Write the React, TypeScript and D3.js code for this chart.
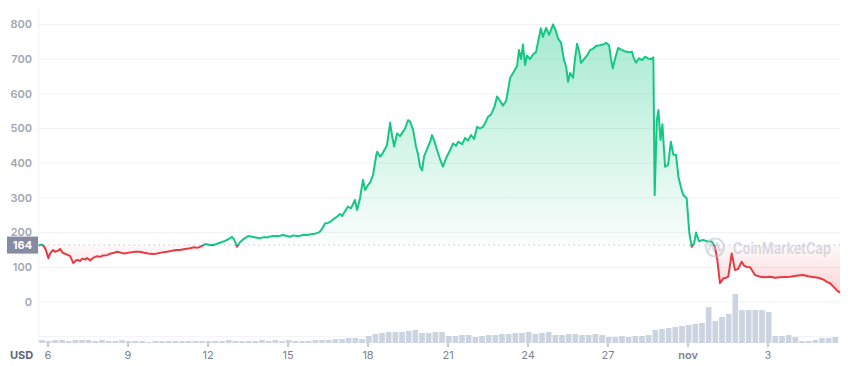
import * as React from 'react';
import {useEffect, useRef} from 'react';
import * as d3 from 'd3';

const width = 852;
const height = 366;

// price points: [day offset from Oct 6, price in USD]
const prices: [number, number][] = [
  [-0.35, 163], [-0.23, 166], [-0.15, 160], [-0.08, 150], [0.01, 126], [0.08, 140], [0.19, 150], [0.26, 145],
  [0.38, 148], [0.45, 153], [0.56, 141], [0.68, 138], [0.83, 132], [0.95, 112], [1.05, 120], [1.13, 121],
  [1.2, 118], [1.28, 125], [1.39, 122], [1.46, 127], [1.58, 120], [1.69, 127], [1.84, 132], [1.95, 130],
  [2.06, 134], [2.21, 135], [2.36, 140], [2.48, 142], [2.59, 145], [2.7, 143], [2.85, 140], [2.96, 141],
  [3.11, 143], [3.26, 145], [3.45, 145], [3.6, 142], [3.75, 140], [3.94, 138], [4.09, 140], [4.28, 143],
  [4.46, 145], [4.61, 147], [4.8, 150], [4.95, 150], [5.14, 153], [5.33, 155], [5.48, 158], [5.59, 156],
  [5.7, 159], [5.81, 163], [5.89, 167], [6.04, 165], [6.19, 164], [6.34, 168], [6.49, 172], [6.64, 176],
  [6.71, 179], [6.83, 184], [6.9, 188], [6.98, 180], [7.09, 159], [7.2, 172], [7.31, 180], [7.43, 186],
  [7.5, 190], [7.65, 188], [7.8, 186], [7.95, 184], [8.1, 187], [8.21, 186], [8.33, 189], [8.44, 190],
  [8.59, 190], [8.7, 191], [8.81, 193], [8.96, 190], [9.08, 188], [9.19, 192], [9.34, 190], [9.45, 191],
  [9.6, 194], [9.71, 193], [9.86, 195], [10.01, 197], [10.13, 200], [10.2, 203], [10.31, 215], [10.39, 227],
  [10.5, 228], [10.58, 231], [10.69, 238], [10.84, 246], [10.95, 254], [11.03, 248], [11.14, 262], [11.25, 275],
  [11.36, 270], [11.51, 294], [11.59, 265], [11.7, 299], [11.81, 352], [11.89, 323], [12.0, 337], [12.08, 345],
  [12.19, 366], [12.3, 420], [12.34, 433], [12.45, 419], [12.56, 430], [12.71, 452], [12.83, 517], [12.9, 480],
  [12.98, 448], [13.09, 486], [13.2, 478], [13.31, 491], [13.39, 500], [13.5, 524], [13.58, 520], [13.69, 496],
  [13.8, 448], [13.88, 424], [13.95, 390], [14.03, 380], [14.1, 419], [14.21, 440], [14.33, 462], [14.4, 481],
  [14.48, 465], [14.59, 438], [14.7, 412], [14.81, 390], [14.93, 415], [15.08, 438], [15.19, 457], [15.3, 450],
  [15.38, 462], [15.53, 455], [15.64, 473], [15.75, 465], [15.86, 481], [15.98, 470], [16.09, 505], [16.2, 500],
  [16.31, 505], [16.39, 515], [16.5, 534], [16.61, 540], [16.73, 560], [16.84, 592], [16.95, 580], [17.06, 566],
  [17.18, 580], [17.25, 610], [17.33, 646], [17.44, 660], [17.59, 680], [17.66, 726], [17.74, 700], [17.81, 742],
  [17.89, 683], [17.96, 710], [18.08, 700], [18.19, 714], [18.3, 720], [18.38, 750], [18.48, 789], [18.56, 764],
  [18.68, 790], [18.79, 770], [18.94, 800], [19.05, 780], [19.13, 759], [19.24, 747], [19.35, 697], [19.43, 678],
  [19.5, 635], [19.58, 660], [19.69, 646], [19.76, 700], [19.84, 744], [19.91, 725], [19.99, 689], [20.1, 700],
  [20.21, 710], [20.33, 726], [20.44, 730], [20.55, 738], [20.7, 740], [20.81, 742], [20.93, 747], [21.04, 740],
  [21.11, 702], [21.18, 673], [21.26, 700], [21.38, 732], [21.53, 726], [21.64, 722], [21.79, 720], [21.9, 721],
  [21.98, 700], [22.05, 690], [22.16, 702], [22.28, 697], [22.39, 707], [22.5, 702], [22.61, 700], [22.7, 705],
  [22.75, 308], [22.83, 524], [22.89, 553], [22.97, 467], [23.04, 512], [23.14, 390], [23.25, 395], [23.36, 462],
  [23.45, 424], [23.55, 424], [23.64, 361], [23.73, 332], [23.81, 310], [23.95, 299], [24.05, 198], [24.14, 159],
  [24.23, 170], [24.3, 200], [24.41, 175], [24.56, 179], [24.71, 175], [24.89, 174], [25.01, 159], [25.1, 121],
  [25.2, 54], [25.32, 68], [25.43, 70], [25.51, 73], [25.64, 140], [25.76, 92], [25.88, 95], [26.01, 116],
  [26.1, 105], [26.2, 101], [26.33, 100], [26.51, 78], [26.7, 73], [26.89, 71], [27.08, 73], [27.26, 70],
  [27.45, 71], [27.64, 72], [27.83, 73], [28.01, 75], [28.2, 77], [28.32, 78], [28.5, 74], [28.69, 72],
  [28.88, 70], [29.07, 65], [29.21, 58], [29.33, 54], [29.44, 45], [29.51, 40], [29.59, 33], [29.7, 27]
];

// 6-hour volume bars, starting at day -0.35
const volume = [
  3, 2, 3, 3, 2, 3, 3, 3, 2, 3, 2, 2, 3, 2, 2, 2, 1, 2, 2, 2,
  2, 2, 2, 2, 2, 2, 2, 2, 3, 2, 2, 2, 2, 3, 2, 3, 2, 3, 2, 2,
  2, 3, 3, 3, 4, 4, 5, 5, 4, 7, 9, 10, 11, 11, 11, 12, 13, 10, 10, 11,
  11, 7, 7, 8, 8, 6, 7, 8, 8, 9, 9, 10, 10, 11, 9, 10, 11, 8, 8, 9,
  9, 8, 8, 9, 8, 6, 6, 7, 6, 7, 7, 8, 13, 14, 15, 16, 17, 18, 19, 20,
  36, 22, 26, 29, 49, 33, 33, 33, 33, 31, 7, 7, 8, 6, 2, 2, 3, 5, 5, 6
];
const volumeStart = -0.35;
const volumeStep = 0.25;

const baseline = 164;
const yTicks = [0, 100, 200, 300, 400, 500, 600, 700, 800];
const gridValues = [-100, 0, 100, 200, 300, 400, 500, 600, 700, 800];
const xTickDays = [0, 3, 6, 9, 12, 15, 18, 21, 24, 27];
const xTickLabels = ['6', '9', '12', '15', '18', '21', '24', '27', 'nov', '3'];

const green = '#16c784';
const red = '#ea3943';
const font = 'Inter, "Noto Sans", sans-serif';

export default function App() {
  const ref = useRef<SVGSVGElement>(null);

  useEffect(() => {
    const svg = d3.select(ref.current);
    svg.selectAll('*').remove();

    const x = d3.scaleLinear().domain([-0.35, 29.7]).range([38.7, 840]);
    const y = d3.scaleLinear().domain([-100, 800]).range([336.7, 24.4]);
    const v = d3.scaleLinear().domain([0, 49]).range([0, 49]);
    const volBase = 343;
    const yb = y(baseline);

    const defs = svg.append('defs');
    const gGrad = defs.append('linearGradient').attr('id', 'gfill')
      .attr('gradientUnits', 'userSpaceOnUse')
      .attr('x1', 0).attr('x2', 0).attr('y1', y(800)).attr('y2', yb);
    gGrad.append('stop').attr('offset', 0).attr('stop-color', green).attr('stop-opacity', 0.38);
    gGrad.append('stop').attr('offset', 1).attr('stop-color', green).attr('stop-opacity', 0.02);
    const rGrad = defs.append('linearGradient').attr('id', 'rfill')
      .attr('gradientUnits', 'userSpaceOnUse')
      .attr('x1', 0).attr('x2', 0).attr('y1', yb).attr('y2', y(0));
    rGrad.append('stop').attr('offset', 0).attr('stop-color', red).attr('stop-opacity', 0.03);
    rGrad.append('stop').attr('offset', 1).attr('stop-color', red).attr('stop-opacity', 0.25);
    defs.append('clipPath').attr('id', 'above')
      .append('rect').attr('x', 0).attr('y', 0).attr('width', width).attr('height', yb);
    defs.append('clipPath').attr('id', 'below')
      .append('rect').attr('x', 0).attr('y', yb).attr('width', width).attr('height', height - yb);

    // grid
    svg.append('g').selectAll('line').data(gridValues).join('line')
      .attr('x1', 38.7).attr('x2', 840)
      .attr('y1', d => y(d)).attr('y2', d => y(d))
      .attr('stroke', '#eff2f5').attr('stroke-width', 1);
    svg.append('line')
      .attr('x1', 38.7).attr('x2', 38.7).attr('y1', 7).attr('y2', volBase)
      .attr('stroke', '#eff2f5');

    // volume
    const bw = x(volumeStep) - x(0);
    svg.append('g').selectAll('rect').data(volume).join('rect')
      .attr('x', (d, i) => x(volumeStart + i * volumeStep) + 0.5)
      .attr('width', bw - 1)
      .attr('y', d => volBase - v(d))
      .attr('height', d => v(d))
      .attr('fill', '#cdd4e1');

    // areas
    const area = d3.area<[number, number]>()
      .x(d => x(d[0])).y0(yb).y1(d => y(d[1]));
    svg.append('path').datum(prices).attr('d', area)
      .attr('fill', 'url(#gfill)').attr('clip-path', 'url(#above)');
    svg.append('path').datum(prices).attr('d', area)
      .attr('fill', 'url(#rfill)').attr('clip-path', 'url(#below)');

    // dotted baseline
    svg.append('line')
      .attr('x1', 38.7).attr('x2', 840).attr('y1', yb).attr('y2', yb)
      .attr('stroke', '#a6abb5').attr('stroke-width', 1).attr('stroke-dasharray', '1,4');

    // price line
    const line = d3.line<[number, number]>().x(d => x(d[0])).y(d => y(d[1]));
    svg.append('path').datum(prices).attr('d', line)
      .attr('fill', 'none').attr('stroke', green).attr('stroke-width', 2)
      .attr('stroke-linejoin', 'round').attr('clip-path', 'url(#above)');
    svg.append('path').datum(prices).attr('d', line)
      .attr('fill', 'none').attr('stroke', red).attr('stroke-width', 2)
      .attr('stroke-linejoin', 'round').attr('clip-path', 'url(#below)');

    // watermark
    const wm = svg.append('g').attr('opacity', 0.55);
    wm.append('circle').attr('cx', 715).attr('cy', 247.5).attr('r', 9)
      .attr('fill', 'none').attr('stroke', '#b8bfcc').attr('stroke-width', 2.2);
    wm.append('path')
      .attr('d', 'M708,252 L711,243 L714,251 L717,243 L720,251 L722,249')
      .attr('fill', 'none').attr('stroke', '#b8bfcc').attr('stroke-width', 2)
      .attr('stroke-linejoin', 'round');
    wm.append('text').attr('x', 733).attr('y', 254)
      .attr('font-family', font).attr('font-size', 16).attr('font-weight', 600)
      .attr('textLength', 98).attr('lengthAdjust', 'spacingAndGlyphs')
      .attr('fill', '#b8bfcc').text('CoinMarketCap');

    // y labels
    svg.append('g').selectAll('text').data(yTicks).join('text')
      .attr('x', 32).attr('y', d => y(d)).attr('dy', '0.35em')
      .attr('text-anchor', 'end')
      .attr('font-family', font).attr('font-size', 11).attr('font-weight', 600)
      .attr('fill', '#a1a7b3')
      .text(d => d);

    // baseline label
    svg.append('rect').attr('x', 7).attr('y', yb - 8.5).attr('width', 31).attr('height', 17)
      .attr('fill', '#858ca2');
    svg.append('text').attr('x', 22.5).attr('y', yb).attr('dy', '0.35em')
      .attr('text-anchor', 'middle')
      .attr('font-family', font).attr('font-size', 11).attr('font-weight', 700)
      .attr('fill', '#fff').text(baseline);

    // x axis
    const xg = svg.append('g');
    xg.selectAll('line').data(xTickDays).join('line')
      .attr('x1', d => x(d)).attr('x2', d => x(d))
      .attr('y1', volBase).attr('y2', volBase + 4)
      .attr('stroke', '#8c93a3');
    xg.selectAll('text').data(xTickDays).join('text')
      .attr('x', d => x(d)).attr('y', 359)
      .attr('text-anchor', 'middle')
      .attr('font-family', font).attr('font-size', 11)
      .attr('font-weight', (d, i) => xTickLabels[i] === 'nov' ? 600 : 400)
      .attr('fill', '#7c8393')
      .text((d, i) => xTickLabels[i]);
    svg.append('text').attr('x', 10).attr('y', 359)
      .attr('font-family', font).attr('font-size', 11).attr('font-weight', 700)
      .attr('fill', '#58667e').text('USD');
  }, []);

  return (
    <svg ref={ref} width={width} height={height}
      style={{position: 'absolute', left: 0, top: 0, display: 'block', background: '#fff'}} />
  );
}
